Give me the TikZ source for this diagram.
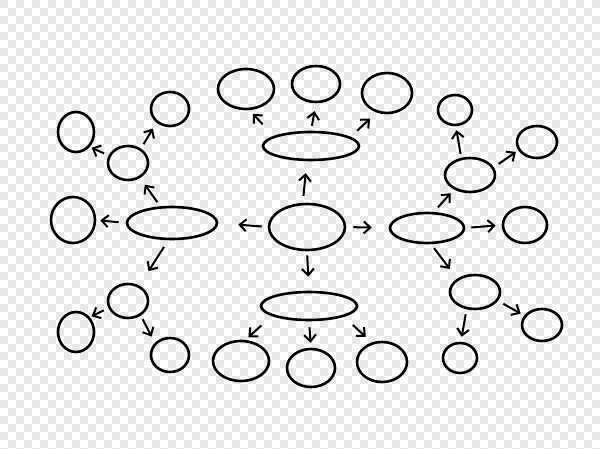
\documentclass[tikz,border=0pt]{standalone}
\usetikzlibrary{shapes.geometric, arrows.meta}

\begin{document}
\begin{tikzpicture}[x=1pt, y=-1pt]
        % Define styles
        \tikzset{
            bubble/.style={ellipse, draw=black, line width=2.6pt, inner sep=0pt},
            link/.style={-{Straight Barb[length=6.5pt,width=12pt]}, line width=2pt},
            checker/.style={fill=black!9}
        }
        % Checkered background
        \clip (0,0) rectangle (600,449);
        \fill[white] (0,0) rectangle (600,449);
        \foreach \j in {0,...,56} {
            \pgfmathtruncatemacro{\off}{mod(\j,2)*8}
            \foreach \i in {0,16,...,592}
                \fill[checker] (\i+\off,\j*8) rectangle ++(8,8);
        }
        % Centre
        \node[bubble, minimum width=76pt, minimum height=46pt] (c) at (307,227) {};
        % Hubs
        \node[bubble, minimum width=96pt, minimum height=28pt] (hubT) at (311,146) {};
        \node[bubble, minimum width=96pt, minimum height=28pt] (hubB) at (309,306) {};
        \node[bubble, minimum width=90pt, minimum height=32pt] (hubL) at (172,223) {};
        \node[bubble, minimum width=74pt, minimum height=30pt] (hubR) at (427,228) {};
        % Top leaves
        \node[bubble, minimum width=56pt, minimum height=40pt] (tA) at (246,89) {};
        \node[bubble, minimum width=48pt, minimum height=36pt] (tB) at (316,84) {};
        \node[bubble, minimum width=50pt, minimum height=40pt] (tC) at (387,93) {};
        % Bottom leaves
        \node[bubble, minimum width=56pt, minimum height=40pt] (bA) at (241,361) {};
        \node[bubble, minimum width=48pt, minimum height=38pt] (bB) at (311,368) {};
        \node[bubble, minimum width=50pt, minimum height=40pt] (bC) at (382,362) {};
        % Left leaves
        \node[bubble, minimum width=44pt, minimum height=46pt] (lA) at (73,220) {};
        \node[bubble, minimum width=40pt, minimum height=34pt] (lM) at (128,163) {};
        \node[bubble, minimum width=36pt, minimum height=40pt] (lTL) at (76,132) {};
        \node[bubble, minimum width=38pt, minimum height=34pt] (lTR) at (170,109) {};
        \node[bubble, minimum width=40pt, minimum height=34pt] (lB) at (128,301) {};
        \node[bubble, minimum width=36pt, minimum height=40pt] (lBL) at (76,332) {};
        \node[bubble, minimum width=38pt, minimum height=34pt] (lBR) at (170,355) {};
        % Right leaves
        \node[bubble, minimum width=50pt, minimum height=34pt] (rM) at (470,175) {};
        \node[bubble, minimum width=34pt, minimum height=30pt] (rT) at (455,110) {};
        \node[bubble, minimum width=40pt, minimum height=32pt] (rTR) at (537,142) {};
        \node[bubble, minimum width=44pt, minimum height=36pt] (rA) at (525,225) {};
        \node[bubble, minimum width=50pt, minimum height=34pt] (rB) at (475,292) {};
        \node[bubble, minimum width=34pt, minimum height=30pt] (rBL) at (460,358) {};
        \node[bubble, minimum width=40pt, minimum height=32pt] (rBR) at (542,325) {};
        % Centre to hubs
        \draw[link, shorten <=7pt, shorten >=12pt] (c.100) -- (hubT.255);
        \draw[link, shorten <=6pt, shorten >=20pt] (c.west) -- (hubL.east);
        \draw[link, shorten <=7pt, shorten >=17pt] (c.east) -- (hubR.west);
        \draw[link, shorten <=4pt, shorten >=14pt] (c.south) -- (hubB.north);
        % Top branch
        \draw[link, shorten <=16pt, shorten >=5pt] (hubT.165) -- (tA.279);
        \draw[link, shorten <=5pt, shorten >=8pt] (hubT.north) -- (tB.south);
        \draw[link, shorten <=9pt, shorten >=9pt] (hubT.13) -- (tC.242);
        % Bottom branch
        \draw[link, shorten <=14pt, shorten >=4pt] (hubB.195) -- (bA.78);
        \draw[link, shorten <=6pt, shorten >=5pt] (hubB.south) -- (bB.north);
        \draw[link, shorten <=12pt, shorten >=8pt] (hubB.343) -- (bC.118);
        % Left branch
        \draw[link, shorten <=7pt, shorten >=4pt] (hubL.west) -- (lA.east);
        \draw[link, shorten <=5pt, shorten >=8pt] (hubL.125) -- (lM.309);
        \draw[link, shorten <=5pt, shorten >=2pt] (lM.159) -- (lTL.313);
        \draw[link, shorten <=5pt, shorten >=7pt] (lM.48) -- (lTR.225);
        \draw[link, shorten <=8pt, shorten >=17pt] (hubL.258) -- (lB.54);
        \draw[link, shorten <=5pt, shorten >=2pt] (lB.200) -- (lBL.47);
        \draw[link, shorten <=4pt, shorten >=7pt] (lB.311) -- (lBR.141);
        % Right branch
        \draw[link, shorten <=6pt, shorten >=5pt] (hubR.67) -- (rM.222);
        \draw[link, shorten <=4pt, shorten >=4pt] (rM.117) -- (rT.273);
        \draw[link, shorten <=6pt, shorten >=3pt] (rM.18) -- (rTR.204);
        \draw[link, shorten <=6pt, shorten >=6pt] (hubR.east) -- (rA.west);
        \draw[link, shorten <=5pt, shorten >=12pt] (hubR.284) -- (rB.143);
        \draw[link, shorten <=5pt, shorten >=5pt] (rB.244) -- (rBL.87);
        \draw[link, shorten <=6pt, shorten >=4pt] (rB.339) -- (rBR.152);
\end{tikzpicture}
\end{document}
